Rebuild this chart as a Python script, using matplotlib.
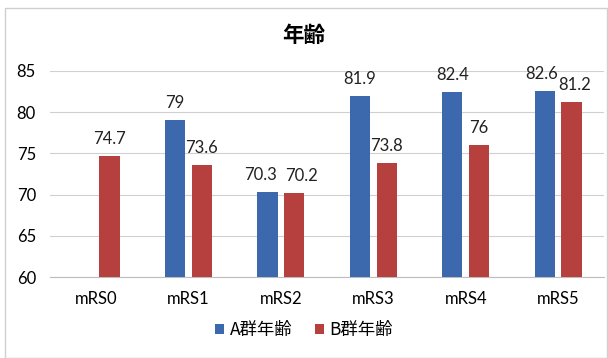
import numpy as np
import matplotlib
matplotlib.use("Agg")
import matplotlib.pyplot as plt
from matplotlib.patches import Rectangle

plt.rcParams['font.family'] = ['Lato', 'Noto Sans CJK JP', 'DejaVu Sans']

categories = ["mRS0", "mRS1", "mRS2", "mRS3", "mRS4", "mRS5"]
group_a = [np.nan, 79, 70.3, 81.9, 82.4, 82.6]
group_b = [74.7, 73.6, 70.2, 73.8, 76, 81.2]
a_labels = ["", "79", "70.3", "81.9", "82.4", "82.6"]
b_labels = ["74.7", "73.6", "70.2", "73.8", "76", "81.2"]
series_names = ["A群年齢", "B群年齢"]
yticks = [60, 65, 70, 75, 80, 85]

blue = "#3C69AE"
red = "#B5403E"

fig = plt.figure(figsize=(6.08, 3.58), dpi=100)
fig.patch.set_facecolor("white")
fig.patches.append(Rectangle((0.008, 0.0), 0.99, 0.978, transform=fig.transFigure,
                             fill=False, edgecolor="#cfcfcf", linewidth=1))
ax = fig.add_axes([0.082, 0.226, 0.912, 0.576])

x = np.arange(len(categories))
w = 0.22
gap = 0.035
ax.bar(x - gap - w / 2, group_a, w, color=blue, label=series_names[0], zorder=3)
ax.bar(x + gap + w / 2, group_b, w, color=red, label=series_names[1], zorder=3)

# small horizontal nudges where labels would collide (as in the original)
a_dx = [0, 0, -0.08, 0, 0, -0.03]
b_dx = [0, 0, 0.08, 0, 0, 0.03]
for xi, v, t, d in zip(x, group_a, a_labels, a_dx):
    if not np.isnan(v):
        ax.text(xi - gap - w / 2 + d, v + 1.1, t, ha="center", va="bottom", fontsize=12, color="#222222")
for xi, v, t, d in zip(x, group_b, b_labels, b_dx):
    ax.text(xi + gap + w / 2 + d, v + 1.1, t, ha="center", va="bottom", fontsize=12, color="#222222")

ax.set_xlim(-0.5, len(categories) - 0.5)
ax.set_ylim(60, 85)
ax.set_yticks(yticks)
ax.set_xticks(x)
ax.set_xticklabels(categories, fontsize=12)
ax.tick_params(axis="y", labelsize=12, length=0, pad=10)
ax.tick_params(axis="x", length=0, pad=10)
ax.grid(axis="y", color="#d0d0d0", linewidth=0.8, zorder=0)
for s in ["top", "right", "left"]:
    ax.spines[s].set_visible(False)
ax.spines["bottom"].set_color("#bdbdbd")

fig.text(0.5, 0.9, "年齢", ha="center", va="center", fontsize=15.5, fontweight="bold",
         family=["Noto Sans CJK JP", "DejaVu Sans"])

leg = fig.legend(loc="center", bbox_to_anchor=(0.5, 0.078), ncol=2, frameon=False,
                 handlelength=0.55, handleheight=0.55, handletextpad=0.3,
                 columnspacing=1.3, prop={"family": ["Noto Sans CJK JP", "DejaVu Sans"], "size": 12.5})

fig.savefig("out.png", dpi=100)
